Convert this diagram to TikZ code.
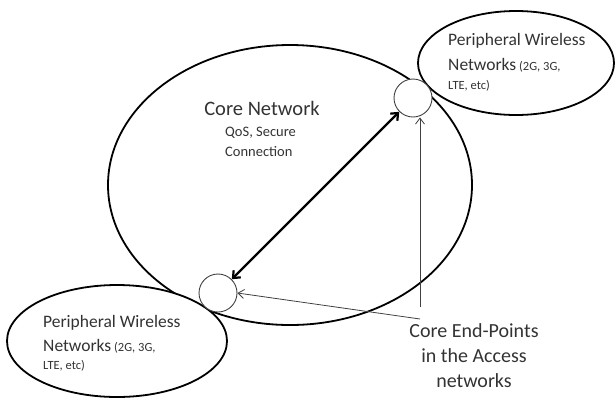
\documentclass[tikz,border=0pt]{standalone}
\usepackage{fontspec}
\setmainfont{Carlito}
\usetikzlibrary{arrows.meta}
\begin{document}
\begin{tikzpicture}[x=1pt,y=-1pt,
  bigell/.style={draw=black,line width=1.8pt},
  endpt/.style={circle,draw=black!75,line width=0.9pt,fill=white,minimum size=38pt,inner sep=0pt},
  thinarr/.style={draw=black!75,line width=0.8pt,-{Straight Barb[length=6pt,width=9pt]}},
  thickarr/.style={draw=black,line width=2.2pt,{Straight Barb[length=6pt,width=10pt]}-{Straight Barb[length=6pt,width=10pt]}},
  lbl/.style={text=black!80,align=left,inner sep=0pt},
  small/.style={}]
\useasboundingbox (0,0) rectangle (616,400);
\draw[bigell] (290,185) ellipse [x radius=182, y radius=140];
\draw[bigell, fill=white] (516,63) ellipse [x radius=98, y radius=52];
\draw[bigell, fill=white] (117,341) ellipse [x radius=110, y radius=56];
\node[endpt] (tr) at (413,98) {};
\node[endpt] (bl) at (218,293) {};
\node[lbl,font=\fontsize{20.5}{24}\selectfont] (core) at (262,108) {Core Network};
\node[lbl,font=\fontsize{14.5}{20}\selectfont,anchor=north west] (qos) at (225,127) {QoS, Secure\\Connection};
\node[lbl,font=\fontsize{17.5}{25}\selectfont,anchor=north west] (p1) at (448,33) {Peripheral Wireless\\Networks\,{\fontsize{12.5}{14}\selectfont(2G, 3G,}\\[-6pt]{\fontsize{12.5}{14}\selectfont LTE, etc)}};
\node[lbl,font=\fontsize{17.5}{24}\selectfont,anchor=north west] (p2) at (43,315) {Peripheral Wireless\\Networks\,{\fontsize{12.5}{14}\selectfont(2G, 3G,}\\[-6pt]{\fontsize{12.5}{14}\selectfont LTE, etc)}};
\node[lbl,align=center,font=\fontsize{20}{25}\selectfont,anchor=north] (cep) at (474,323) {Core End-Points\\in the Access\\networks};
\coordinate (v) at (420,307);
\coordinate (d) at (420,319);
\draw[thickarr] (bl) -- (tr);
\draw[thinarr] (v) -- (tr.south -| v);
\draw[thinarr] (d) -- (bl.east);
\end{tikzpicture}
\end{document}
